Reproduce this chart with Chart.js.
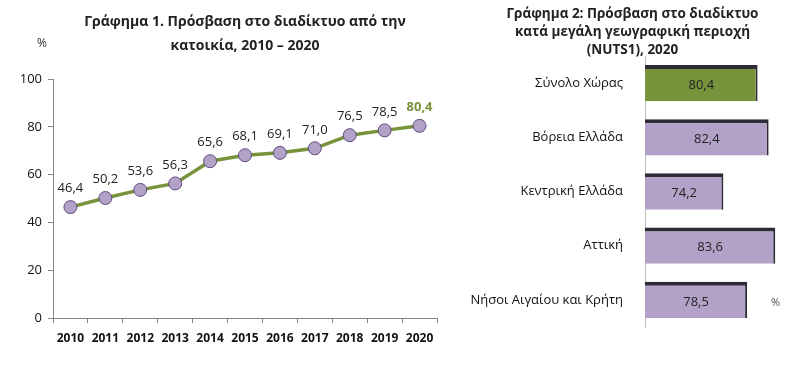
<!DOCTYPE html>
<html>
<head>
<meta charset="utf-8">
<script src="https://cdn.jsdelivr.net/npm/chart.js@4"></script>
<style>
  body { margin: 0; background: #fff; font-family: "Open Sans", "Noto Sans", sans-serif; }
  #wrap { position: relative; width: 793px; height: 365px; overflow: hidden; }
  .t { position: absolute; font-weight: bold; font-size: 14px; color: #222; text-align: center; line-height: 18px; white-space: nowrap; }
  .pct { position: absolute; font-size: 12px; color: #333; }
  #c1 { position: absolute; left: 0; top: 0; }
  #c2 { position: absolute; left: 460px; top: 0; }
</style>
</head>
<body>
<div id="wrap">
  <canvas id="c1" width="460" height="365"></canvas>
  <canvas id="c2" width="333" height="365"></canvas>
  <div class="t" style="left:65px;top:9px;width:360px;line-height:24px;font-size:14px">Γράφημα 1. Πρόσβαση στο διαδίκτυο από την<br>κατοικία, 2010 – 2020</div>
  <div class="t" style="left:490px;top:4px;width:285px;font-size:13.5px">Γράφημα 2: Πρόσβαση στο διαδίκτυο<br>κατά μεγάλη γεωγραφική περιοχή<br>(NUTS1), 2020</div>
  <div class="pct" style="left:37px;top:34px">%</div>
  <div class="pct" style="left:771px;top:294px;font-size:11px;color:#555">%</div>
</div>
<script>
// Γράφημα 1
var years = ["2010", "2011", "2012", "2013", "2014", "2015", "2016", "2017", "2018", "2019", "2020"]
var access = [46.4, 50.2, 53.6, 56.3, 65.6, 68.1, 69.1, 71.0, 76.5, 78.5, 80.4]
var yTicks = [0, 20, 40, 60, 80, 100]

// Γράφημα 2
var regions = ["Σύνολο Χώρας", "Βόρεια Ελλάδα", "Κεντρική Ελλάδα", "Αττική", "Νήσοι Αιγαίου και Κρήτη"]
var regionValues = [80.4, 82.4, 74.2, 83.6, 78.5]

var green = "#77933c"
var lilac = "#b3a2c7"
var fontName = "'Open Sans', 'Noto Sans', sans-serif"

function fmt(v) {
    return v.toFixed(1).replace(".", ",")
}

// ετικέτες τιμών πάνω από τα σημεία
const lineLabels = {
    id: "lineLabels",
    afterDatasetsDraw(chart) {
        const ctx = chart.ctx
        const meta = chart.getDatasetMeta(0)
        ctx.save()
        ctx.textAlign = "center"
        ctx.textBaseline = "bottom"
        meta.data.forEach((pt, i) => {
            const last = i === access.length - 1
            ctx.font = (last ? "bold " : "") + "13px " + fontName
            ctx.fillStyle = last ? green : "#222"
            ctx.fillText(fmt(access[i]), pt.x, pt.y - 12)
        })
        ctx.restore()
    }
}

// ετικέτες μέσα στις μπάρες
const barLabels = {
    id: "barLabels",
    afterDatasetsDraw(chart) {
        const ctx = chart.ctx
        const meta = chart.getDatasetMeta(0)
        const left = chart.chartArea.left
        ctx.save()
        ctx.textAlign = "center"
        ctx.textBaseline = "middle"
        ctx.font = "13px " + fontName
        ctx.fillStyle = "#222"
        meta.data.forEach((bar, i) => {
            ctx.fillText(fmt(regionValues[i]), (Math.max(bar.base, left) + bar.x) / 2, bar.y + 2)
        })
        ctx.restore()
    }
}

new Chart(document.getElementById("c1"), {
    type: "line",
    data: {
        labels: years,
        datasets: [{
            data: access,
            borderColor: green,
            borderWidth: 3.5,
            pointRadius: 6.5,
            pointBackgroundColor: lilac,
            pointBorderColor: "#5f4b7d",
            pointBorderWidth: 1,
            tension: 0
        }]
    },
    options: {
        responsive: false,
        animation: false,
        layout: { padding: { top: 79, right: 23, bottom: 7, left: 0 } },
        plugins: { legend: { display: false }, tooltip: { enabled: false } },
        scales: {
            x: {
                offset: true,
                grid: { drawOnChartArea: false, offset: true, tickLength: 5, color: "#868686" },
                border: { color: "#868686" },
                ticks: {
                    color: "#111", font: { family: fontName, size: 12, weight: "bold" }, padding: 8,
                    maxRotation: 0, minRotation: 0, autoSkip: false
                },
                afterFit: s => { s.height = 40 }
            },
            y: {
                min: 0,
                max: 100,
                afterBuildTicks: s => { s.ticks = yTicks.map(v => ({ value: v })) },
                grid: { drawOnChartArea: false, tickLength: 5, color: "#868686" },
                border: { color: "#868686" },
                ticks: { color: "#111", font: { family: fontName, size: 13 }, padding: 6 },
                afterFit: s => { s.width = 53 }
            }
        }
    },
    plugins: [lineLabels]
})

new Chart(document.getElementById("c2"), {
    type: "bar",
    data: {
        labels: regions,
        datasets: [{
            data: regionValues,
            backgroundColor: regionValues.map((v, i) => i === 0 ? green : lilac),
            borderColor: "#2e2a36",
            borderWidth: { top: 4, right: 2, left: 0, bottom: 0 },
            borderSkipped: false,
            barPercentage: 0.67,
            categoryPercentage: 1
        }]
    },
    options: {
        indexAxis: "y",
        responsive: false,
        animation: false,
        layout: { padding: { top: 56, right: 10, bottom: 38, left: 0 } },
        plugins: { legend: { display: false }, tooltip: { enabled: false } },
        scales: {
            x: { min: 60, max: 85, display: false },
            y: {
                grid: { display: false },
                border: { color: "#bfbfbf" },
                ticks: { color: "#111", font: { family: fontName, size: 13 }, padding: 14 },
                afterFit: s => { s.width = 185 }
            }
        }
    },
    plugins: [barLabels]
})
</script>
</body>
</html>
